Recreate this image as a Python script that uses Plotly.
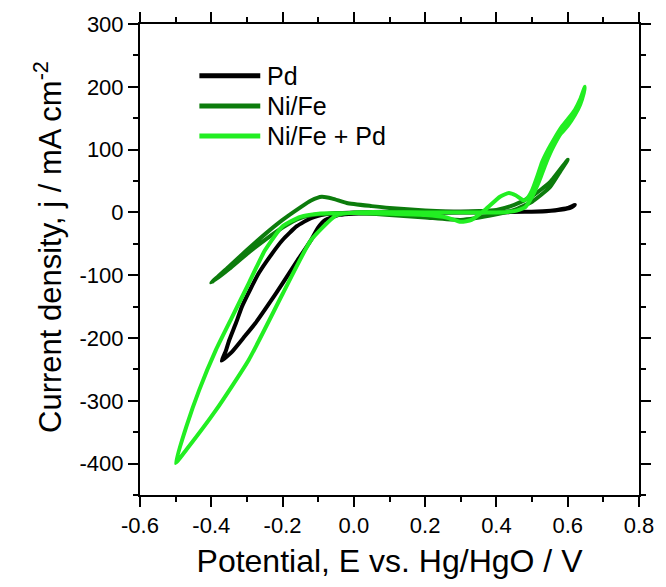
import plotly.graph_objects as go

# Pd (black) cyclic voltammogram
pd_E = [0.62, 0.60, 0.57, 0.53, 0.48, 0.40, 0.30, 0.20, 0.10, 0.00, -0.04, -0.08, -0.10, -0.12,
        -0.16, -0.20, -0.24, -0.277, -0.31, -0.342, -0.371,
        -0.36, -0.35, -0.33, -0.314, -0.29, -0.267, -0.235, -0.20, -0.16, -0.12, -0.08, -0.04,
        0.00, 0.10, 0.20, 0.30, 0.40, 0.48, 0.54, 0.58, 0.61, 0.62]
pd_j = [12, 7, 4, 2, 1, 0, 0, -1, -1, -2, -4, -12, -24, -44,
        -78, -113, -147, -177, -200, -222, -236,
        -222, -204, -175, -150, -122, -97, -70, -44, -22, -9, -3, -1,
        0, 1, 1, 1, 1, 1, 2, 4, 8, 12]

# Ni/Fe (dark green)
nife_E = [-0.40, -0.35, -0.30, -0.25, -0.20, -0.15, -0.12, -0.09, -0.06, -0.02, 0.05, 0.10, 0.20,
          0.30, 0.40, 0.45, 0.50, 0.55, 0.60,
          0.58, 0.55, 0.50, 0.45, 0.40, 0.30, 0.20, 0.10, 0.00, -0.10, -0.15, -0.20, -0.25,
          -0.30, -0.35, -0.40]
nife_j = [-112, -86, -60, -35, -12, 8, 19, 25, 22, 15, 10, 7, 3,
          1, 4, 12, 26, 48, 84,
          66, 40, 17, 4, -3, -12, -8, -4, -1, -3, -9, -24, -44,
          -66, -90, -112]

# Ni/Fe + Pd (light green)
nifepd_E = [-0.50, -0.47, -0.434, -0.387, -0.341, -0.295, -0.249, -0.20, -0.15, -0.10, 0.00, 0.10,
            0.20, 0.26, 0.30, 0.33, 0.37, 0.41, 0.435, 0.455, 0.477, 0.49, 0.50, 0.515, 0.528,
            0.545, 0.56, 0.583, 0.60, 0.62, 0.635, 0.648,
            0.645, 0.635, 0.62, 0.60, 0.58, 0.56, 0.54, 0.52, 0.50, 0.48, 0.45, 0.40, 0.20,
            0.00, -0.05, -0.12, -0.20, -0.295, -0.387, -0.47, -0.50]
nifepd_j = [-399, -341, -283, -219, -166, -113, -60, -22, -7, -2, -1, -2,
            -4, -8, -15, -12, 5, 25, 31, 27, 19, 25, 35, 58, 80,
            100, 115, 136, 148, 163, 180, 200,
            190, 172, 155, 138, 125, 105, 80, 50, 25, 8, 2, 0, 0,
            0, -5, -44, -130, -235, -315, -378, -399]

series = [
    ("Pd", pd_E, pd_j, "#000000"),
    ("Ni/Fe", nife_E, nife_j, "#0c7c0c"),
    ("Ni/Fe + Pd", nifepd_E, nifepd_j, "#22ee22"),
]

x_ticks = [-0.6, -0.4, -0.2, 0.0, 0.2, 0.4, 0.6, 0.8]
x_ticktext = ["-0.6", "-0.4", "-0.2", "0.0", "0.2", "0.4", "0.6", "0.8"]
y_ticks = [300, 200, 100, 0, -100, -200, -300, -400]
y_ticktext = ["300", "200", "100", "0", "-100", "-200", "-300", "-400"]

FONT = "Liberation Sans, Arial"

fig = go.Figure()
for name, E, j, col in series:
    fig.add_trace(go.Scatter(x=E, y=j, mode="lines", name=name,
                             line=dict(color=col, width=4, shape="spline", smoothing=0.5),
                             showlegend=False))

# legend drawn in paper coordinates
leg_y = [0.890, 0.826, 0.762]
for (name, E, j, col), yy in zip(series, leg_y):
    fig.add_shape(type="line", xref="paper", yref="paper", x0=0.119, x1=0.241, y0=yy, y1=yy,
                  line=dict(color=col, width=5))
    fig.add_annotation(xref="paper", yref="paper", x=0.250, y=yy, text=name, showarrow=False,
                       xanchor="left", yanchor="middle",
                       font=dict(family=FONT, size=25, color="black"))

# y-axis title (placed as an annotation to match its vertical position)
fig.add_annotation(xref="paper", yref="paper", x=-0.184, y=0.527, xanchor="center",
                   yanchor="middle", textangle=-90, showarrow=False,
                   text="Current density, j / mA cm<sup>-2</sup>",
                   font=dict(family=FONT, size=31, color="black"))

axis_common = dict(showline=True, linewidth=2, linecolor="black", mirror="ticks",
                   ticks="outside", ticklen=10, tickwidth=2, tickcolor="black",
                   showgrid=False, zeroline=False,
                   tickfont=dict(family=FONT, size=22, color="black"))

fig.update_xaxes(range=[-0.6, 0.8], tickvals=x_ticks, ticktext=x_ticktext,
                 minor=dict(dtick=0.1, tick0=-0.6, ticks="outside", ticklen=5, tickwidth=2,
                            tickcolor="black"),
                 title=dict(text="Potential, E vs. Hg/HgO / V", standoff=12,
                            font=dict(family=FONT, size=32, color="black")),
                 **axis_common)
fig.update_yaxes(range=[-450, 300], tickvals=y_ticks, ticktext=y_ticktext,
                 minor=dict(dtick=50, tick0=0, ticks="outside", ticklen=5, tickwidth=2,
                            tickcolor="black"),
                 **axis_common)

fig.update_layout(width=666, height=587, margin=dict(l=140, r=21, t=23, b=92),
                  plot_bgcolor="white", paper_bgcolor="white")

# remove the browser's default body margin so the figure sits at the page origin
fig.write_html("out.html", config={"displayModeBar": False},
               post_script="document.body.style.margin='0px';document.body.style.overflow='hidden';")
